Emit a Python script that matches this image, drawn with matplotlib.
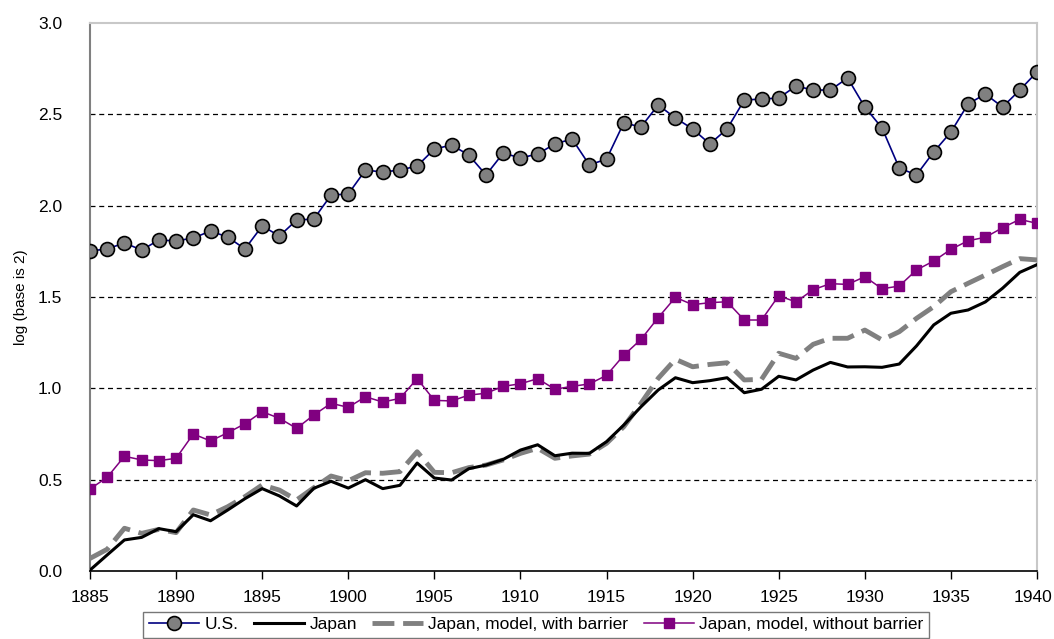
import matplotlib
matplotlib.use("Agg")
import matplotlib.pyplot as plt
from matplotlib import transforms

years = list(range(1885, 1941))

us = [1.752, 1.763, 1.796, 1.757, 1.812, 1.807, 1.823, 1.861, 1.828, 1.763,
      1.889, 1.834, 1.921, 1.927, 2.058, 2.064, 2.195, 2.184, 2.195, 2.217,
      2.310, 2.332, 2.277, 2.168, 2.288, 2.261, 2.283, 2.338, 2.365, 2.223,
      2.255, 2.453, 2.431, 2.551, 2.480, 2.420, 2.338, 2.420, 2.578, 2.584,
      2.589, 2.655, 2.633, 2.633, 2.699, 2.540, 2.425, 2.206, 2.168, 2.294,
      2.403, 2.557, 2.611, 2.540, 2.633, 2.732]

japan = [0.005, 0.088, 0.170, 0.184, 0.232, 0.215, 0.308, 0.275, 0.334, 0.396,
         0.451, 0.411, 0.356, 0.453, 0.491, 0.454, 0.500, 0.451, 0.469, 0.591,
         0.509, 0.498, 0.560, 0.580, 0.611, 0.662, 0.691, 0.631, 0.645, 0.644,
         0.708, 0.799, 0.899, 0.991, 1.058, 1.031, 1.042, 1.058, 0.976, 0.995,
         1.066, 1.046, 1.100, 1.142, 1.117, 1.118, 1.115, 1.133, 1.232, 1.347,
         1.411, 1.429, 1.473, 1.548, 1.635, 1.677]

model_barrier = [0.069, 0.119, 0.234, 0.206, 0.228, 0.210, 0.334, 0.307, 0.352, 0.407,
                 0.471, 0.443, 0.389, 0.456, 0.520, 0.494, 0.538, 0.535, 0.544, 0.653,
                 0.540, 0.538, 0.566, 0.580, 0.608, 0.644, 0.672, 0.617, 0.630, 0.640,
                 0.699, 0.790, 0.918, 1.055, 1.159, 1.118, 1.131, 1.140, 1.046, 1.049,
                 1.192, 1.164, 1.241, 1.274, 1.274, 1.319, 1.265, 1.310, 1.383, 1.447,
                 1.529, 1.575, 1.620, 1.666, 1.710, 1.703]

model_no_barrier = [0.449, 0.513, 0.628, 0.608, 0.604, 0.617, 0.750, 0.712, 0.757, 0.806,
                    0.872, 0.836, 0.781, 0.854, 0.918, 0.896, 0.954, 0.925, 0.945, 1.053,
                    0.934, 0.931, 0.963, 0.973, 1.011, 1.025, 1.053, 0.995, 1.011, 1.024,
                    1.071, 1.181, 1.268, 1.387, 1.498, 1.458, 1.469, 1.474, 1.374, 1.374,
                    1.507, 1.473, 1.540, 1.573, 1.569, 1.611, 1.545, 1.560, 1.648, 1.697,
                    1.761, 1.808, 1.827, 1.879, 1.925, 1.903]

labels = ["U.S.", "Japan", "Japan, model, with barrier", "Japan, model, without barrier"]
x_ticks = list(range(1885, 1941, 5))
y_ticks = [0.0, 0.5, 1.0, 1.5, 2.0, 2.5, 3.0]

plt.rcParams['font.family'] = ['Liberation Sans', 'DejaVu Sans']

fig = plt.figure(figsize=(10.54, 6.39), dpi=100)
ax = fig.add_axes([90/1054, 1 - 571/639, (1037-90)/1054, (571-23)/639])

ax.plot(years, us, color="#000080", lw=1.2, marker="o", markersize=10,
        markerfacecolor="#808080", markeredgecolor="black", markeredgewidth=1.2,
        label=labels[0], zorder=5)
ax.plot(years, japan, color="black", lw=2.2, label=labels[1], zorder=4)
ax.plot(years, model_barrier, color="#808080", lw=3.5, linestyle=(0, (4.5, 1.8)),
        label=labels[2], zorder=3)
ax.plot(years, model_no_barrier, color="#800080", lw=1.1, marker="s", markersize=7.5,
        markerfacecolor="#800080", markeredgecolor="#800080",
        label=labels[3], zorder=5)

ax.set_xlim(1885, 1940)
ax.set_ylim(0, 3.0)
ax.set_xticks(x_ticks)
ax.set_xticklabels([str(v) for v in x_ticks])
ax.set_yticks(y_ticks)
ax.set_yticklabels([f"{v:.1f}" for v in y_ticks])
for v in y_ticks[1:-1]:
    ax.axhline(v, color="black", lw=0.9, linestyle=(0, (4, 3)), zorder=1)

ax.tick_params(axis="x", direction="out", length=6, width=1, color="black",
               labelsize=12.5, pad=8)
ax.tick_params(axis="y", length=0, labelsize=12.5, pad=20)

# keep the last x label inside the figure
last = ax.get_xticklabels()[-1]
last.set_transform(last.get_transform() +
                   transforms.ScaledTranslation(-4/100, 0, fig.dpi_scale_trans))

ax.spines["bottom"].set_color("black")
ax.spines["bottom"].set_linewidth(1.2)
ax.spines["left"].set_color("#808080")
ax.spines["left"].set_linewidth(1.5)
ax.spines["top"].set_color("#c8c8c8")
ax.spines["top"].set_linewidth(1.5)
ax.spines["right"].set_color("#c8c8c8")
ax.spines["right"].set_linewidth(1.5)
ax.set_ylabel("log (base is 2)", fontsize=11, labelpad=7)

leg = fig.legend(loc="upper center", bbox_to_anchor=(536/1054, 1 - 612/639), ncol=4,
                 fontsize=12.5, frameon=True, fancybox=False, edgecolor="#555555",
                 handlelength=2.9, handletextpad=0.3, columnspacing=0.9,
                 borderpad=0.3, borderaxespad=0)
leg.get_frame().set_linewidth(1.0)

fig.savefig("out.png", dpi=100)
